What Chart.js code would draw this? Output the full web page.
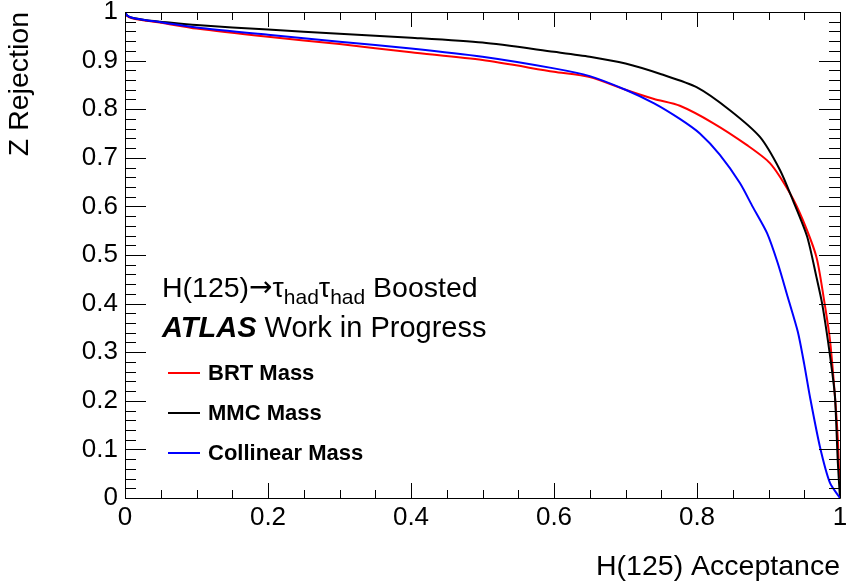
<!DOCTYPE html>
<html><head><meta charset="utf-8">
<script src="https://cdn.jsdelivr.net/npm/chart.js@4"></script>
<style>html,body{margin:0;padding:0;background:#fff}#c{display:block}</style>
</head><body>
<canvas id="c" width="846" height="587"></canvas>
<script>
// ---- data ----
const xTicks = [0, 0.2, 0.4, 0.6, 0.8, 1];
const xTickLabels = ['0', '0.2', '0.4', '0.6', '0.8', '1'];
const yTicks = [0, 0.1, 0.2, 0.3, 0.4, 0.5, 0.6, 0.7, 0.8, 0.9, 1];
const yTickLabels = ['0', '0.1', '0.2', '0.3', '0.4', '0.5', '0.6', '0.7', '0.8', '0.9', '1'];
const xTitle = 'H(125) Acceptance';
const yTitle = 'Z Rejection';
const seriesNames = ['BRT Mass', 'MMC Mass', 'Collinear Mass'];

const brtX = [0, 0.003, 0.01, 0.03, 0.05, 0.1, 0.2, 0.3, 0.4, 0.5, 0.6, 0.65, 0.7, 0.74, 0.776, 0.823, 0.870, 0.902, 0.930, 0.948, 0.967, 0.977, 0.986, 0.993, 0.997, 0.999];
const brtY = [1.0, 0.992, 0.987, 0.982, 0.978, 0.966, 0.949, 0.934, 0.917, 0.901, 0.877, 0.866, 0.840, 0.821, 0.807, 0.771, 0.726, 0.689, 0.627, 0.572, 0.496, 0.414, 0.325, 0.208, 0.12, 0.04];

const mmcX = [0, 0.003, 0.01, 0.03, 0.05, 0.1, 0.2, 0.3, 0.4, 0.5, 0.6, 0.65, 0.7, 0.75, 0.8, 0.846, 0.888, 0.916, 0.934, 0.954, 0.967, 0.975, 0.983, 0.989, 0.993, 0.997, 1.0];
const mmcY = [1.0, 0.993, 0.988, 0.983, 0.980, 0.973, 0.964, 0.955, 0.947, 0.937, 0.918, 0.908, 0.894, 0.872, 0.845, 0.798, 0.743, 0.675, 0.613, 0.538, 0.455, 0.40, 0.325, 0.26, 0.208, 0.072, 0.0];

const colX = [0, 0.003, 0.01, 0.03, 0.05, 0.1, 0.2, 0.3, 0.4, 0.5, 0.6, 0.65, 0.7, 0.74, 0.776, 0.804, 0.832, 0.860, 0.878, 0.898, 0.913, 0.927, 0.941, 0.950, 0.958, 0.972, 0.986, 1.0];
const colY = [1.0, 0.993, 0.988, 0.983, 0.979, 0.968, 0.953, 0.939, 0.925, 0.908, 0.884, 0.868, 0.840, 0.812, 0.780, 0.750, 0.706, 0.648, 0.599, 0.545, 0.483, 0.413, 0.342, 0.275, 0.208, 0.105, 0.031, 0.0];

const pts = (xs, ys) => xs.map((x, i) => ({ x: x, y: ys[i] }));

const FONT = "'Liberation Sans', Arial, Helvetica, sans-serif";
Chart.defaults.font.family = FONT;
Chart.defaults.color = '#000';

// ROOT-style frame with inner ticks on all 4 sides, positions from the scales
const framePlugin = {
  id: 'frame',
  afterDatasetsDraw(chart) {
    const { ctx, chartArea: a, scales } = chart;
    const xs = scales.x, ys = scales.y;
    ctx.save();
    ctx.strokeStyle = '#000';
    ctx.lineWidth = 1;
    ctx.beginPath();
    ctx.rect(Math.round(a.left) + 0.5, Math.round(a.top) + 0.5, Math.round(a.right - a.left), Math.round(a.bottom - a.top));
    ctx.stroke();
    ctx.beginPath();
    for (let i = 0; i <= 50; i++) {
      const v = i / 50;
      const y = Math.round(ys.getPixelForValue(v)) + 0.5;
      const len = (i % 5 === 0) ? 21 : 11;
      ctx.moveTo(a.left, y); ctx.lineTo(a.left + len, y);
      ctx.moveTo(a.right, y); ctx.lineTo(a.right - len, y);
    }
    for (let i = 0; i <= 20; i++) {
      const v = i / 20;
      const x = Math.round(xs.getPixelForValue(v)) + 0.5;
      const len = (i % 4 === 0) ? 15 : 8;
      ctx.moveTo(x, a.bottom); ctx.lineTo(x, a.bottom - len);
      ctx.moveTo(x, a.top); ctx.lineTo(x, a.top + len);
    }
    ctx.stroke();
    ctx.restore();
  }
};

// in-plot labels and legend
const textPlugin = {
  id: 'texts',
  afterDraw(chart) {
    const ctx = chart.ctx;
    ctx.save();
    ctx.fillStyle = '#000';
    ctx.textBaseline = 'alphabetic';
    ctx.textAlign = 'left';
    // line 1
    let x = 162, y = 297;
    const big = "28.5px " + FONT, sub = "21px " + FONT, arrow = "28px 'DejaVu Sans', " + FONT;
    const parts = [['H(125)', big, 0], ['\u2192', arrow, -1], ['\u03c4', big, 0], ['had', sub, 7], ['\u03c4', big, 0], ['had', sub, 7], [' Boosted', big, 0]];
    for (const [t, f, dy] of parts) {
      ctx.font = f;
      ctx.fillText(t, x, y + dy);
      x += ctx.measureText(t).width;
    }
    // line 2
    x = 162; y = 337;
    ctx.font = "italic bold 29px " + FONT;
    ctx.fillText('ATLAS', x, y);
    x += ctx.measureText('ATLAS').width;
    ctx.font = "29px " + FONT;
    ctx.fillText(' Work in Progress', x, y);
    // legend
    const ds = chart.data.datasets;
    const ly = [373, 413, 453];
    ctx.font = "bold 22px " + FONT;
    ctx.textBaseline = 'middle';
    ds.forEach((d, i) => {
      ctx.strokeStyle = d.borderColor;
      ctx.lineWidth = 2;
      ctx.beginPath();
      ctx.moveTo(168, ly[i]); ctx.lineTo(200, ly[i]);
      ctx.stroke();
      ctx.fillStyle = '#000';
      ctx.fillText(d.label, 208, ly[i] + 1);
    });
    ctx.restore();
  }
};

const colors = ['#ff0000', '#000000', '#0000ff'];
const series = [pts(brtX, brtY), pts(mmcX, mmcY), pts(colX, colY)];

new Chart(document.getElementById('c'), {
  type: 'scatter',
  data: {
    datasets: series.map((s, i) => ({
      label: seriesNames[i],
      data: s,
      showLine: true,
      borderColor: colors[i],
      backgroundColor: colors[i],
      borderWidth: 2,
      pointRadius: 0,
      tension: 0.25,
      order: 2 - i
    }))
  },
  options: {
    responsive: false,
    animation: false,
    devicePixelRatio: 1,
    layout: { padding: { top: 12, right: 6, left: 0, bottom: 0 } },
    plugins: { legend: { display: false }, tooltip: { enabled: false } },
    scales: {
      x: {
        type: 'linear', min: 0, max: 1,
        afterBuildTicks: s => { s.ticks = xTicks.map(v => ({ value: v })); },
        afterFit: s => { s.height = 89; s.paddingLeft = 0; s.paddingRight = 0; },
        grid: { display: false, drawTicks: false },
        border: { display: false },
        ticks: { font: { size: 26 }, padding: 4, maxRotation: 0, autoSkip: false,
                 callback: (v, i) => xTickLabels[i] },
        title: { display: true, text: xTitle, align: 'end', font: { size: 28.5 }, padding: { top: 0, bottom: 3 } }
      },
      y: {
        type: 'linear', min: 0, max: 1,
        afterBuildTicks: s => { s.ticks = yTicks.map(v => ({ value: v })); },
        afterFit: s => { s.width = 125; s.paddingTop = 0; s.paddingBottom = 0; },
        grid: { display: false, drawTicks: false },
        border: { display: false },
        ticks: { font: { size: 26 }, padding: 7, autoSkip: false,
                 callback: (v, i) => yTickLabels[i] },
        title: { display: true, text: yTitle, align: 'end', font: { size: 28.5 }, padding: { top: 3, bottom: 0 } }
      }
    }
  },
  plugins: [framePlugin, textPlugin]
});
</script>
</body></html>
